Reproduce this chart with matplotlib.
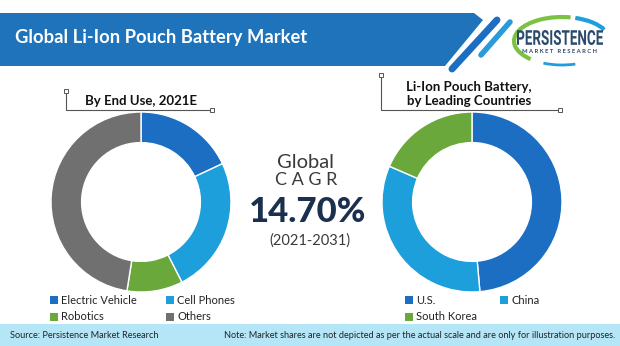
import matplotlib.pyplot as plt
from matplotlib.patches import Rectangle, Polygon, Arc, PathPatch
from matplotlib.textpath import TextPath
from matplotlib.font_manager import FontProperties
from matplotlib.transforms import Affine2D

# Data
end_use_labels = ["Electric Vehicle", "Cell Phones", "Robotics", "Others"]
end_use_shares = [18, 24.5, 10, 47.5]
country_labels = ["U.S.", "China", "South Korea"]
country_shares = [48.6, 32.9, 18.5]
cagr_text = "14.70%"
cagr_period = "(2021-2031)"

DARK_BLUE = "#1b6ec2"
LIGHT_BLUE = "#1d9fdc"
GREEN = "#6aa83c"
GREY = "#707070"
end_use_colors = [DARK_BLUE, LIGHT_BLUE, GREEN, GREY]
country_colors = [DARK_BLUE, LIGHT_BLUE, GREEN]

plt.rcParams["font.family"] = ["Lato", "DejaVu Sans"]

fig = plt.figure(figsize=(6.2, 3.46), dpi=100)
fig.patch.set_facecolor("white")

# Overlay axes in pixel units for banner, footer and labels
bg = fig.add_axes([0, 0, 1, 1])
bg.set_xlim(0, 620)
bg.set_ylim(346, 0)
bg.axis("off")

# Title banner with slanted right end
bg.add_patch(Polygon([(0, 13), (474, 13), (483, 20), (445, 66), (0, 66)],
                     closed=True, color="#1f73ba", lw=0))
bg.plot([452, 497], [69, 20], color=DARK_BLUE, lw=5, solid_capstyle="round")
bg.plot([481, 510], [55, 22], color="#2a9ad9", lw=4, solid_capstyle="round")
bg.text(15, 37, "Global Li-Ion Pouch Battery Market", color="white",
        fontsize=13.2, fontweight="bold", va="center", ha="left")

# Logo: swoosh plus condensed wordmark
bg.add_patch(Arc((562, 41), 96, 48, theta1=150, theta2=290, color="#7cc242", lw=3))
bg.add_patch(Arc((562, 41), 96, 48, theta1=300, theta2=345, color="#1d9fdc", lw=3))
bg.add_patch(Arc((562, 41), 96, 48, theta1=60, theta2=130, color="#1d9fdc", lw=2))
word = TextPath((0, 0), "PERSISTENCE", size=20,
                prop=FontProperties(family="Roboto", weight="bold"))
wb = word.get_extents()
sx = 86 / wb.width
sy = 15 / wb.height
word_tf = Affine2D().translate(-wb.x0, -wb.y0).scale(sx, -sy).translate(517, 45)
bg.add_patch(PathPatch(word_tf.transform_path(word), color="#2b4a6b", lw=0))
bg.text(560, 51.5, "M A R K E T   R E S E A R C H", color="#2b4a6b", fontsize=4.2,
        fontweight="bold", ha="center", va="center")

# Footer
bg.add_patch(Rectangle((0, 324), 620, 22, color="#b5e6f7", lw=0))
bg.text(10, 336, "Source: Persistence Market Research", fontsize=6.6,
        color="#222222", va="center", ha="left")
bg.text(615, 336, "Note: Market shares are not depicted as per the actual scale and are only for illustration purposes.",
        fontsize=6.6, color="#222222", va="center", ha="right")

# Bracket labels
def bracket(x0, y0, x1, y1):
    bg.plot([x0, x0, x1], [y0, y1, y1], color="#555555", lw=0.8)
    for (x, y) in [(x0, y0), (x1, y1)]:
        bg.add_patch(Rectangle((x - 2, y - 2), 4, 4, facecolor="white",
                               edgecolor="#555555", lw=0.7, zorder=3))

bracket(66, 91, 212, 110)
bg.text(141, 101, "By End Use, 2021E", fontsize=9.5, fontweight="bold",
        ha="center", va="center", color="#111111")
bracket(381, 75, 560, 110)
bg.text(469, 94, "Li-Ion Pouch Battery,\nby Leading Countries", fontsize=9.5,
        fontweight="bold", ha="center", va="center", color="#111111", linespacing=1.15)

# Centre CAGR block
bg.text(306, 162, "Global", fontsize=14.5, color="#3a3a3a", ha="center", va="center")
bg.text(306, 180, "C A G R", fontsize=13, color="#3a3a3a", ha="center", va="center")
bg.text(308, 212, cagr_text, fontsize=25, color="#1b2f4f", ha="center", va="center",
        fontweight="black")
bg.text(310, 241, cagr_period, fontsize=10.5, color="#3a3a3a", ha="center", va="center")

# Donut charts
def donut(cx, cy, r, values, colors):
    ax = fig.add_axes([(cx - r) / 620, (346 - cy - r) / 346, 2 * r / 620, 2 * r / 346])
    ax.pie(values, colors=colors, startangle=90, counterclock=False, radius=1,
           wedgeprops=dict(width=0.34, edgecolor="white", linewidth=1))
    ax.set_xlim(-1, 1)
    ax.set_ylim(-1, 1)
    ax.axis("off")
    return ax

donut(141, 202, 90, end_use_shares, end_use_colors)
donut(472, 202, 90, country_shares, country_colors)

# Legends
def legend(items, colors, positions):
    for label, color, (x, y) in zip(items, colors, positions):
        bg.add_patch(Rectangle((x, y - 4), 8, 8, color=color, lw=0))
        bg.text(x + 11, y, label, fontsize=8, color="#222222", va="center", ha="left")

legend(end_use_labels, end_use_colors, [(50, 300), (166, 300), (50, 317), (166, 317)])
legend(country_labels, country_colors, [(405, 300), (500, 300), (405, 317)])

fig.savefig("out.png", dpi=100)
